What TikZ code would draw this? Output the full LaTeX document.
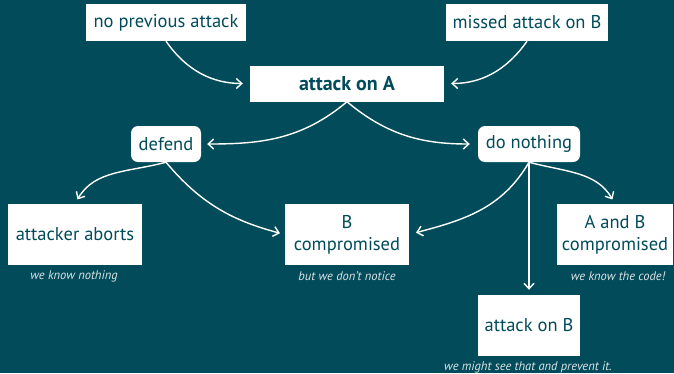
\documentclass[tikz,border=0pt]{standalone}
\usepackage{fontspec}
\setmainfont{PT Sans}
\usepackage{xcolor}
\usepackage{tikz}
\usetikzlibrary{arrows.meta}
\definecolor{bgteal}{HTML}{014B5A}
\definecolor{captiongray}{HTML}{DCE4E6}

\begin{document}
\begin{tikzpicture}[x=1pt,y=-1pt,
  box/.style={fill=white,text=bgteal,font=\fontsize{18.5}{22}\selectfont,align=center,inner sep=0pt},
  soft/.style={box,rounded corners=7pt},
  caption/.style={text=captiongray,font=\fontsize{12.5}{14}\selectfont\itshape,inner sep=0pt},
  arr/.style={white,line width=1.4pt,-{Straight Barb[length=5.5pt,width=10pt]}}]
  \fill[bgteal] (0,0) rectangle (674,373);
  \node[box,minimum width=160pt,minimum height=37pt] (prev) at (166,22.5) {no previous attack};
  \node[box,minimum width=162pt,minimum height=37pt] (missed) at (527,22.5) {missed attack on B};
  \node[box,minimum width=194pt,minimum height=36pt,font=\fontsize{20}{22}\selectfont\bfseries] (attA) at (347,83.5) {attack on A};
  \node[soft,minimum width=70pt,minimum height=36pt] (defend) at (166,144) {defend};
  \node[soft,minimum width=102pt,minimum height=36pt] (idle) at (529,144) {do nothing};
  \node[box,minimum width=134pt,minimum height=61pt] (aborts) at (75,234.5) {attacker aborts};
  \node[box,minimum width=124pt,minimum height=61pt] (Bcomp) at (347,234.5) {B\\compromised};
  \node[box,minimum width=116pt,minimum height=61pt] (ABcomp) at (615,234.5) {A and B\\compromised};
  \node[box,minimum width=102pt,minimum height=61pt] (attB) at (529,325.5) {attack on B};
  \node[caption] (nothing) at (74,276) {we know nothing};
  \node[caption] (notice) at (347,276) {but we don't notice};
  \node[caption] (code) at (618,276) {we know the code!};
  \node[caption] (prevent) at (528,367) {we might see that and prevent it.};
  % arrows
  \draw[arr,shorten >=7pt] (prev.south) to[out=-55,in=180] (attA.west);
  \draw[arr,shorten >=7pt] (missed.south) to[out=-125,in=0] (attA.east);
  \draw[arr,shorten >=6pt] (attA.south) to[out=-140,in=0] (defend.east);
  \draw[arr,shorten >=8pt] (attA.south) to[out=-40,in=180] (idle.west);
  \draw[arr,shorten >=5pt] (defend.south) to[out=-165,in=60] (aborts.north);
  \draw[arr,shorten >=5pt] (defend.south) to[out=-50,in=165] (Bcomp.west);
  \draw[arr,shorten >=7pt] (idle.south) to[out=-120,in=15] (Bcomp.east);
  \draw[arr,shorten >=5pt] (idle.south) -- (attB.north);
  \draw[arr,shorten >=5pt] (idle.south) to[out=-15,in=120] (ABcomp.north);
\end{tikzpicture}
\end{document}
